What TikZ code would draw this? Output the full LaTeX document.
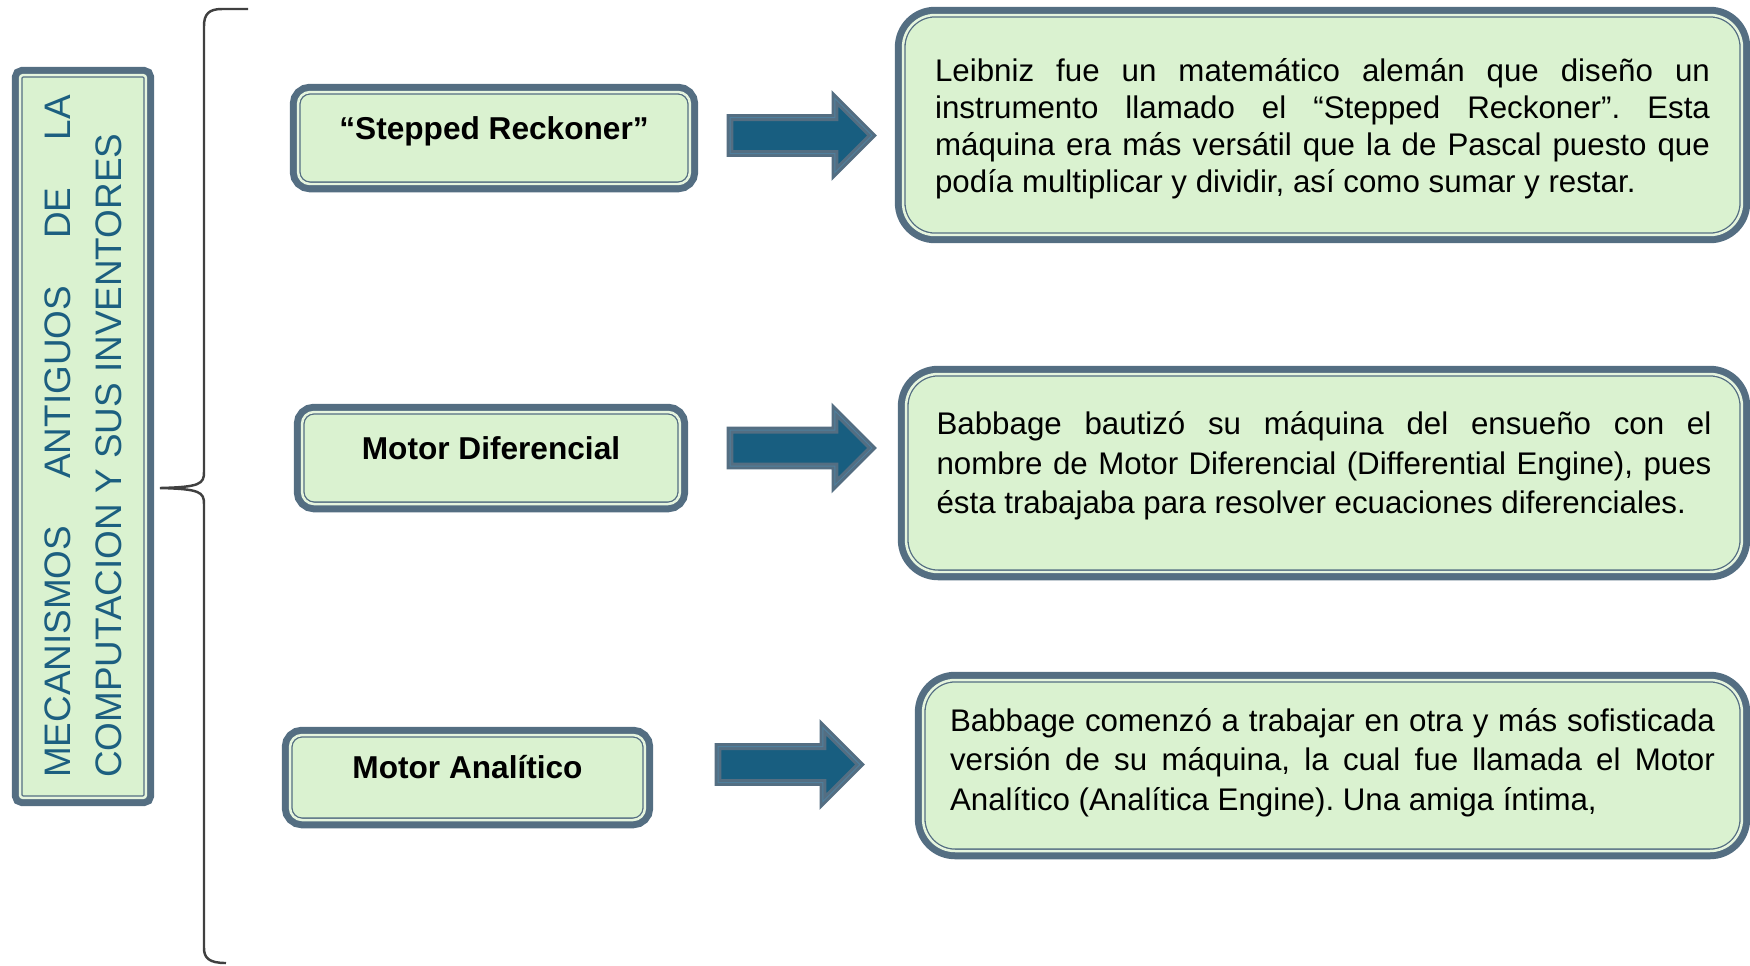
\documentclass[tikz,border=0pt]{standalone}
\usepackage{fontspec}
\setmainfont{Liberation Sans}
\usetikzlibrary{shapes.arrows}

\definecolor{slateline}{HTML}{546E82}
\definecolor{boxfill}{HTML}{DAF2D0}
\definecolor{stripe}{HTML}{E6F5DE}
\definecolor{arrowfill}{HTML}{185E80}
\definecolor{arrowstripe}{HTML}{4F7F9D}
\definecolor{titletext}{HTML}{1C5F80}
\definecolor{bracegray}{HTML}{404040}

\begin{document}
\frenchspacing
\begin{tikzpicture}[x=0.02cm,y=-0.02cm,
  framed box/.style={draw=slateline,fill=boxfill,double=stripe,line width=0.74pt,double distance=1.42pt,preaction={draw=slateline,line width=9.4pt},inner sep=0pt},
  name box/.style={framed box,rounded corners=0.24cm,font=\fontsize{18pt}{21pt}\selectfont\bfseries,text height=13pt,text depth=11.5pt},
  info box/.style={framed box,rounded corners=0.64cm,align=justify,font=\fontsize{17.8pt}{22.6pt}\selectfont},
  block arrow/.style={single arrow,single arrow head extend=0.38cm,inner xsep=0pt,inner ysep=0.33cm,minimum height=2.84cm,anchor=tail,fill=arrowfill,draw=slateline,double=arrowstripe,line width=1.7pt,double distance=0.57pt}]
  \useasboundingbox (0,0) rectangle (1750,965);

  \node[framed box,rounded corners=0.06cm,rotate=90,minimum width=14.46cm,minimum height=2.52cm,text width=13.66cm,align=justify,text=titletext,font=\fontsize{21pt}{29pt}\selectfont] (title) at (83,436.5) {MECANISMOS ANTIGUOS DE LA\linebreak COMPUTACION Y SUS INVENTORES};

  \node[name box,minimum width=7.84cm,minimum height=1.84cm] (stepped) at (494,138) {“Stepped Reckoner”};
  \node[name box,minimum width=7.56cm,minimum height=1.84cm] (diferencial) at (491,458) {Motor Diferencial};
  \node[name box,minimum width=7.1cm,minimum height=1.7cm] (analitico) at (467.5,777.5) {Motor Analítico};

  \node[block arrow] (arr1) at (728.5,135.5) {};
  \node[block arrow] (arr2) at (728.5,448) {};
  \node[block arrow] (arr3) at (716.5,764.5) {};

  \node[info box,minimum width=16.78cm,minimum height=4.4cm,text width=15.5cm,font=\fontsize{17.8pt}{21pt}\selectfont] (leibniz) at (1322.5,125) {\hrule width 0pt height 0pt\vskip4.4pt Leibniz fue un matemático alemán que diseño un\linebreak instrumento llamado el “Stepped Reckoner”. Esta\linebreak máquina era más versátil que la de Pascal puesto que\linebreak podía multiplicar y dividir, así como sumar y restar.};
  \node[info box,minimum width=16.72cm,minimum height=3.96cm,text width=15.5cm] (babbage) at (1324,473) {Babbage bautizó su máquina del ensueño con el\linebreak nombre de Motor Diferencial (Differential Engine), pues\linebreak ésta trabajaba para resolver ecuaciones diferenciales.\par\vskip8.2pt\hrule width 0pt height 0pt};
  \node[info box,minimum width=16.38cm,minimum height=3.42cm,text width=15.3cm] (analitica) at (1332.5,765.5) {Babbage comenzó a trabajar en otra y más sofisticada\linebreak versión de su máquina, la cual fue llamada el Motor\linebreak Analítico (Analítica Engine). Una amiga íntima,\par\vskip3.2pt\hrule width 0pt height 0pt};

  \coordinate (bracetip) at (160,488);
  \draw[bracegray,line width=1.4pt] (248,9) -- (222,9) .. controls (209,9) and (204,14) .. (204,26) -- (204,472)
    .. controls (204,484) and (200,487) .. (bracetip) .. controls (200,489) and (204,492) .. (204,504)
    -- (204,948) .. controls (204,958) and (209,963) .. (226,963);
\end{tikzpicture}
\end{document}
